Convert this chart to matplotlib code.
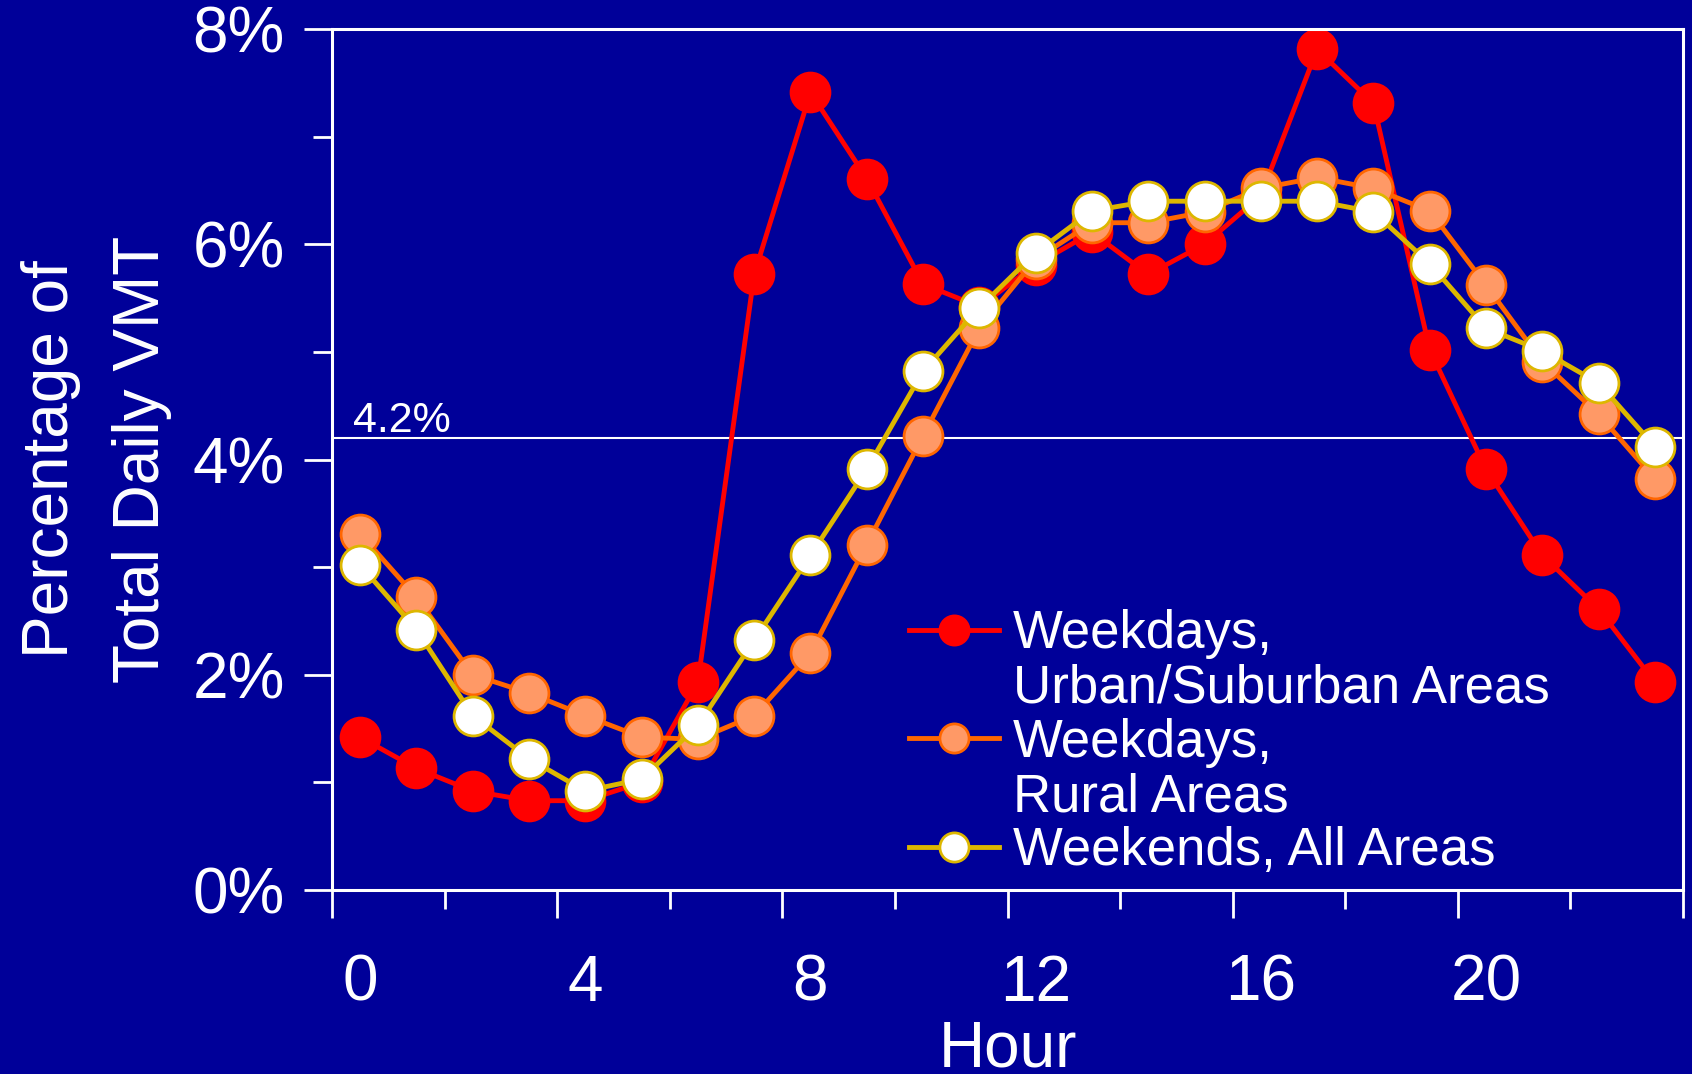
import matplotlib
matplotlib.use("Agg")
import matplotlib.pyplot as plt
from matplotlib.lines import Line2D

# hourly share of total daily VMT (%)
hours = list(range(24))

weekday_urban = [1.42, 1.13, 0.92, 0.83, 0.83, 1.00, 1.93, 5.72, 7.41, 6.61, 5.63, 5.42,
                 5.81, 6.11, 5.72, 6.00, 6.45, 7.81, 7.31, 5.02, 3.91, 3.11, 2.61, 1.93]
weekday_rural = [3.31, 2.72, 2.00, 1.83, 1.62, 1.42, 1.40, 1.62, 2.20, 3.21, 4.22, 5.22,
                 5.86, 6.20, 6.20, 6.30, 6.52, 6.62, 6.52, 6.31, 5.62, 4.91, 4.42, 3.82]
weekend_all = [3.02, 2.42, 1.62, 1.22, 0.92, 1.03, 1.53, 2.32, 3.11, 3.91, 4.82, 5.41,
               5.92, 6.31, 6.40, 6.40, 6.40, 6.40, 6.30, 5.82, 5.22, 5.01, 4.71, 4.12]

average_share = 4.2
hour_labels = [0, 4, 8, 12, 16, 20]
pct_ticks = [0, 2, 4, 6, 8]

bg = "#000099"
plt.rcParams["font.family"] = ["Liberation Sans", "DejaVu Sans"]

fig = plt.figure(figsize=(16.92, 10.74), dpi=100, facecolor=bg)
ax = fig.add_axes([0.1962, 0.1713, 0.7985, 0.8017])
ax.set_facecolor(bg)

ms = 28
lw = 3.5
ax.plot(hours, weekday_urban, color="#FF0000", lw=lw, marker="o", ms=ms,
        mfc="#FF0000", mec="#FF0000", mew=2, label="Weekdays,")
ax.plot(hours, weekday_rural, color="#FF6600", lw=lw, marker="o", ms=ms,
        mfc="#FF9966", mec="#FF6600", mew=2, label="Weekdays,")
ax.plot(hours, weekend_all, color="#DDB700", lw=lw, marker="o", ms=ms,
        mfc="white", mec="#DDB700", mew=2, label="Weekends, All Areas")

# average line
ax.axhline(average_share, color="white", lw=1.5, zorder=1)
ax.annotate(f"{average_share}%", xy=(0, average_share), xycoords=("axes fraction", "data"),
            xytext=(15, 4), textcoords="offset points", color="white", fontsize=31,
            va="baseline", ha="left")

ax.set_xlim(-0.5, 23.5)
ax.set_ylim(0, 8)

# tick marks on the hour boundaries, labels on the hours
ax.set_xticks([h - 0.5 for h in range(0, 25, 4)])
ax.set_xticks([h - 0.5 for h in range(2, 25, 4)], minor=True)
ax.set_xticklabels([])
ax.set_yticks(pct_ticks)
ax.set_yticklabels([f"{p}%" for p in pct_ticks])
ax.set_yticks([1, 3, 5, 7], minor=True)

ax.tick_params(which="major", length=20, width=2, colors="white", labelsize=46, pad=14)
ax.tick_params(which="minor", length=14, width=2, colors="white")
for s in ax.spines.values():
    s.set_color("white")
    s.set_linewidth(2.2)

sec = ax.secondary_xaxis("bottom")
sec.set_xticks(hour_labels)
sec.set_xticklabels([str(h) for h in hour_labels])
sec.tick_params(length=0, pad=46, labelsize=46, colors="white")
sec.spines["bottom"].set_visible(False)
sec.set_xlabel("Hour", fontsize=46, color="white", labelpad=4)

ax.set_ylabel("Percentage of\nTotal Daily VMT", fontsize=46, color="white",
              labelpad=15, linespacing=1.65)

# legend: first line of each entry carries the handle
h = ax.get_lines()
blank = Line2D([], [], linestyle="none")
leg = fig.legend([h[0], blank, h[1], blank, h[2]],
                 ["Weekdays,", "Urban/Suburban Areas", "Weekdays,", "Rural Areas",
                  "Weekends, All Areas"],
                 loc="upper left", bbox_to_anchor=(0.537, 0.4325), frameon=False,
                 fontsize=38, borderpad=0, borderaxespad=0, handlelength=1.72,
                 handletextpad=0.25, labelspacing=0.08, markerscale=0.75)
for t in leg.get_texts():
    t.set_color("white")

fig.savefig("out.png", dpi=100, facecolor=bg)
